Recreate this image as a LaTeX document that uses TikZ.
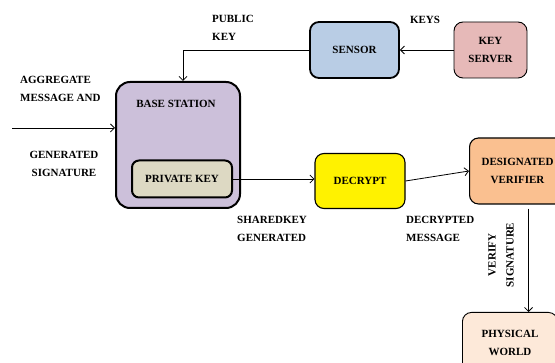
\documentclass[tikz,border=0pt]{standalone}
\usepackage{fontspec}
\setmainfont{Liberation Serif}
\usetikzlibrary{arrows.meta}
\definecolor{stationfill}{HTML}{CCC0DA}
\definecolor{privfill}{HTML}{DDD9C3}
\definecolor{sensorfill}{HTML}{B9CDE5}
\definecolor{serverfill}{HTML}{E6B9B8}
\definecolor{verifierfill}{HTML}{FAC090}
\definecolor{worldfill}{HTML}{FDE9D9}
\begin{document}
\begin{tikzpicture}[x=1pt,y=-1pt]
            \tikzstyle{block}=[draw=black,rounded corners=9pt,align=center,inner sep=0pt,font=\fontsize{11}{18}\selectfont\bfseries]
            \tikzstyle{lbl}=[align=left,inner sep=0pt,font=\fontsize{11}{18}\selectfont\bfseries]
            \tikzstyle{flow}=[draw,thick,-{Straight Barb[length=4pt,width=8pt]}]
            \clip (0,0) rectangle (555,363);
            \fill[white] (0,0) rectangle (555,363);
            \begin{scope}
               \node [block,fill=stationfill,line width=2pt,rounded corners=14pt,minimum width=124pt,minimum height=126pt] (base) at (178,145) {};
               \node [lbl] (basetxt) at (176,104) {BASE STATION};
               \node [block,fill=privfill,line width=2pt,rounded corners=7pt,minimum width=100pt,minimum height=37pt] (priv) at (182,179) {PRIVATE KEY};
               \node [block,fill=sensorfill,line width=1.8pt,minimum width=89pt,minimum height=56pt] (sensor) at (354.5,50) {SENSOR};
               \node [block,fill=serverfill,line width=0.9pt,minimum width=73pt,minimum height=56pt] (keysrv) at (490.5,50) {KEY\\SERVER};
               \node [block,fill=yellow,line width=1.1pt,minimum width=90pt,minimum height=55pt] (decrypt) at (360,181) {DECRYPT};
               \node [block,fill=verifierfill,line width=1.1pt,minimum width=96pt,minimum height=66pt,anchor=west] (verifier) at (469,171) {DESIGNATED\\VERIFIER};
               \node [block,fill=worldfill,line width=0.9pt,minimum width=95pt,minimum height=60pt,anchor=north west] (world) at (462,312) {PHYSICAL\\WORLD};
               \coordinate (inp) at (12,128);
               \path[flow] (inp) -- (inp -| base.west);
               \path[flow] (sensor.west) -| ([xshift=5pt]base.north);
               \path[flow] (keysrv.west) -- (sensor.east);
               \path[flow] (priv.east) -- (priv.east -| decrypt.west);
               \path[flow] (decrypt.east) -- (verifier.west);
               \path[flow] ([xshift=11pt,yshift=-4pt]verifier.south) -- ([xshift=11pt]verifier.south |- world.north);
               \node [lbl,anchor=west] (aggr) at (20,89) {AGGREGATE\\MESSAGE AND};
               \node [lbl,align=center] (gensig) at (64,164) {GENERATED\\SIGNATURE};
               \node [lbl,anchor=west] (pubkey) at (212,28) {PUBLIC\\KEY};
               \node [lbl] (keys) at (425,20) {KEYS};
               \node [lbl,anchor=west] (shared) at (237,229) {SHAREDKEY\\GENERATED};
               \node [lbl,anchor=west] (decmsg) at (406,229) {DECRYPTED\\MESSAGE};
               \node [lbl,align=center,rotate=90] (versig) at (501,255) {VERIFY\\SIGNATURE};
            \end{scope}
        \end{tikzpicture}
\end{document}
